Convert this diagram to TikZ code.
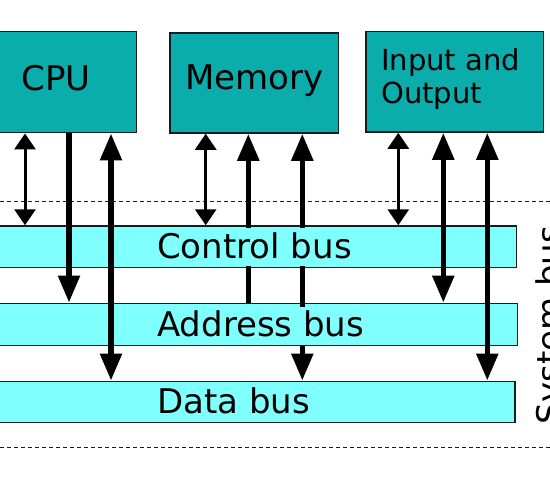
\documentclass[tikz,border=0pt]{standalone}
\usepackage{fontspec}
\setmainfont{DejaVu Sans}
\usetikzlibrary{arrows.meta}
\definecolor{boxteal}{RGB}{10,172,172}
\definecolor{buscyan}{RGB}{128,255,255}
\definecolor{edge}{RGB}{20,30,30}
\tikzset{
  unitbox/.style={draw=edge, fill=boxteal, line width=1.5pt, inner sep=0pt},
  busbox/.style={draw=edge, fill=buscyan, line width=1.5pt, inner sep=0pt},
  bigtext/.style={font=\fontsize{34}{40}\selectfont, inner sep=0pt},
  buslabel/.style={font=\fontsize{34}{40}\selectfont, fill=buscyan, inner xsep=2pt, inner ysep=0pt, text height=30pt, text depth=8pt, anchor=base west},
  thinlink/.style={line width=3pt, arrows={Triangle[width=21pt,length=16pt]-Triangle[width=21pt,length=16pt]}},
  thicklink/.style={line width=5.5pt},
  thicktip/.style={arrows={-Triangle[width=21pt,length=27pt]}},
  thickboth/.style={arrows={Triangle[width=21pt,length=27pt]-Triangle[width=21pt,length=27pt]}},
  sepline/.style={line width=1.3pt, dash pattern=on 4pt off 3pt, draw=edge}
}
\begin{document}
\begin{tikzpicture}[x=1pt, y=-1pt]
\useasboundingbox (0,0) rectangle (550,480);
% separator lines
\coordinate (s1l) at (0,201.7); \coordinate (s1r) at (550,201.7);
\coordinate (s2l) at (0,447.3); \coordinate (s2r) at (550,447.3);
\draw[sepline] (s1l) -- (s1r);
\draw[sepline] (s2l) -- (s2r);
% units
\node[unitbox, minimum width=160.7pt, minimum height=101pt] (cpu) at (56.3,82.2) {};
\node[unitbox, minimum width=168.3pt, minimum height=100pt] (mem) at (254.2,83) {};
\node[unitbox, minimum width=177.3pt, minimum height=100.5pt] (io) at (454.7,81.8) {};
\node[bigtext, anchor=base] (cputxt) at (56.3,90.7) {CPU};
\node[bigtext, anchor=base] (memtxt) at (254.2,89) {Memory};
\node[font=\fontsize{29}{33}\selectfont, inner sep=0pt, anchor=base west] (iotxt1) at (381,70) {Input and};
\node[font=\fontsize{29}{33}\selectfont, inner sep=0pt, anchor=base west] (iotxt2) at (381,103) {Output};
% buses
\node[busbox, minimum width=536.7pt, minimum height=41.3pt] (ctrl) at (248.35,246.65) {};
\node[busbox, minimum width=537.3pt, minimum height=42pt] (addr) at (248.65,324.3) {};
\node[busbox, minimum width=535pt, minimum height=41pt] (data) at (247.5,401.8) {};
% CPU links
\draw[thinlink] (25,0 |- cpu.south) -- (25,0 |- ctrl.north);
\draw[thicklink, thicktip] (69,0 |- cpu.south) -- (69,0 |- addr.north);
\draw[thicklink, thickboth] (111,0 |- cpu.south) -- (111,0 |- data.north);
% Memory links
\draw[thinlink] (205.7,0 |- mem.south) -- (205.7,0 |- ctrl.north);
\draw[thicklink, thicktip] (248.3,0 |- addr.north) -- (248.3,0 |- mem.south);
\draw[thicklink, thickboth] (302.3,0 |- mem.south) -- (302.3,0 |- data.north);
% I/O links
\draw[thinlink] (398.3,0 |- io.south) -- (398.3,0 |- ctrl.north);
\draw[thicklink, thickboth] (443.3,0 |- io.south) -- (443.3,0 |- addr.north);
\draw[thicklink, thickboth] (487.3,0 |- io.south) -- (487.3,0 |- data.north);
% bus labels
\node[buslabel] (ctrltxt) at (155,258) {Control bus};
\node[buslabel] (addrtxt) at (155,336.7) {Address bus};
\node[buslabel] (datatxt) at (155,413.5) {Data bus};
% system bus label
\node[bigtext, rotate=90, anchor=north] (systxt) at (535.5,325) {System bus};
\end{tikzpicture}
\end{document}
